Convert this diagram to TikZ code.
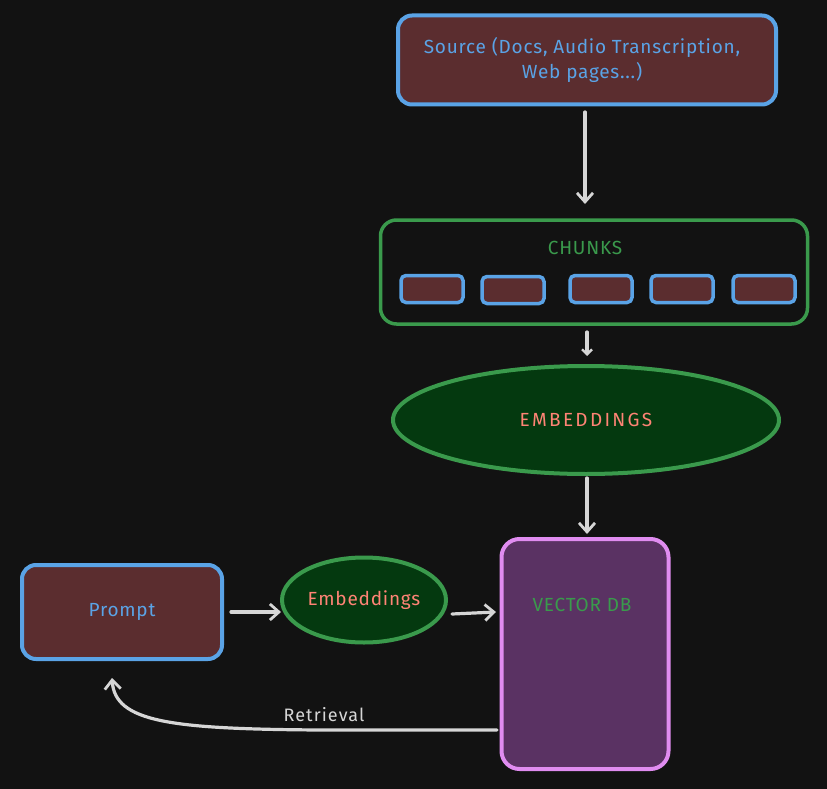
\documentclass[tikz,border=0pt]{standalone}
\usepackage{fontspec}
\setmainfont{Fira Sans}
\usetikzlibrary{arrows.meta,shapes.geometric}
\definecolor{bg}{HTML}{121212}
\definecolor{brn}{HTML}{5B2D2F}
\definecolor{blu}{HTML}{5AA3E6}
\definecolor{grn}{HTML}{3A9A4C}
\definecolor{dgrn}{HTML}{04390F}
\definecolor{sal}{HTML}{FF8475}
\definecolor{pur}{HTML}{5A3263}
\definecolor{pnk}{HTML}{E08CF0}
\definecolor{arr}{HTML}{D6D6D6}
\tikzset{
  brownbox/.style={draw=blu, fill=brn, line width=4pt, rounded corners=14pt, inner sep=0pt},
  chunkbox/.style={draw=blu, fill=brn, line width=3.5pt, rounded corners=5pt, minimum width=62pt, minimum height=27pt, inner sep=0pt},
  greenell/.style={ellipse, draw=grn, fill=dgrn, line width=4pt, inner sep=0pt},
  conn/.style={draw=arr, line width=3.2pt, line cap=round, -{Straight Barb[length=9pt,width=16pt,line width=2.8pt]}},
  lbl/.style={font=\fontsize{19}{25}\selectfont\addfontfeature{LetterSpace=4}},
}
\begin{document}
\begin{tikzpicture}[x=1pt,y=-1pt]
\useasboundingbox[fill=bg] (0,0) rectangle (827,789);
% source
\node[brownbox, minimum width=378pt, minimum height=89pt] (src) at (587,60) {};
\node[lbl, text=blu, align=center] (srct) at (582,60) {Source (Docs, Audio Transcription,\\Web pages...)};
% chunks container
\node[draw=grn, line width=3.5pt, rounded corners=16pt, minimum width=427pt, minimum height=104pt, inner sep=0pt] (chk) at (594,272) {};
\node[lbl, text=grn] (chkt) at (585,248) {CHUNKS};
\node[chunkbox] (c1) at (432,289) {};
\node[chunkbox] (c2) at (513,290) {};
\node[chunkbox] (c3) at (601,289) {};
\node[chunkbox] (c4) at (682,289) {};
\node[chunkbox] (c5) at (764,289) {};
% embeddings big
\node[greenell, minimum width=386pt, minimum height=108pt] (emb) at (586,420) {};
\node[font=\fontsize{19}{25}\selectfont\addfontfeature{LetterSpace=12}, text=sal] (embt) at (586,420) {EMBEDDINGS};
% vector db
\node[draw=pnk, fill=pur, line width=4pt, rounded corners=18pt, minimum width=167pt, minimum height=230pt, inner sep=0pt] (vdb) at (585,654) {};
\node[lbl, text=grn] (vdbt) at (582,605) {VECTOR DB};
% prompt
\node[brownbox, minimum width=200pt, minimum height=94pt] (pr) at (122,612) {};
\node[lbl, text=blu] (prt) at (122,612) {Prompt};
% small embeddings
\node[greenell, minimum width=164pt, minimum height=85pt] (se) at (364,600) {};
\node[lbl, text=sal] (set) at (364,600) {Embeddings};
% connectors
\coordinate (a1s) at (585,112);
\coordinate (a1e) at (585,204);
\draw[conn] (a1s) -- (a1e);
\coordinate (a2s) at (587,332);
\coordinate (a2e) at (587,356);
\draw[conn, -{Straight Barb[length=5pt,width=10pt,line width=2.4pt]}] (a2s) -- (a2e);
\coordinate (a3s) at (587,478);
\coordinate (a3e) at (587,534);
\draw[conn] (a3s) -- (a3e);
\coordinate (a4s) at (231,612);
\coordinate (a4e) at (281,612);
\draw[conn] (a4s) -- (a4e);
\coordinate (a5s) at (452,614);
\coordinate (a5e) at (496,612);
\draw[conn] (a5s) -- (a5e);
\coordinate (a6s) at (497,730);
\coordinate (a6e) at (112,678);
\draw[conn] (a6s) -- (320,730) .. controls (170,729) and (115,722) .. (a6e);
\node[font=\fontsize{18}{22}\selectfont\addfontfeature{LetterSpace=6}, text=arr] (ret) at (324,715) {Retrieval};
\end{tikzpicture}
\end{document}
